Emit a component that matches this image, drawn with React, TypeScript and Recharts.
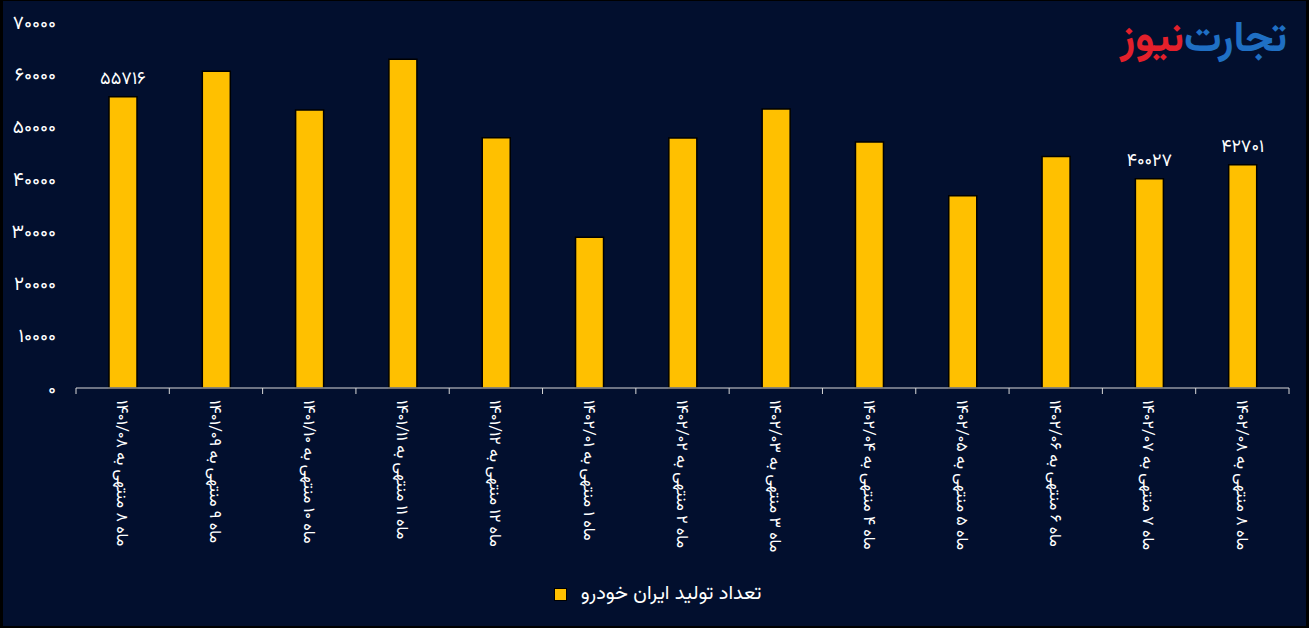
import { BarChart, Bar, XAxis, YAxis, Legend, LabelList } from 'recharts'

// تولید ماهانه ایران خودرو
const categories = [
  'ماه ۸ منتهی به ۱۴۰۱/۰۸',
  'ماه ۹ منتهی به ۱۴۰۱/۰۹',
  'ماه ۱۰ منتهی به ۱۴۰۱/۱۰',
  'ماه ۱۱ منتهی به ۱۴۰۱/۱۱',
  'ماه ۱۲ منتهی به ۱۴۰۱/۱۲',
  'ماه ۱ منتهی به ۱۴۰۲/۰۱',
  'ماه ۲ منتهی به ۱۴۰۲/۰۲',
  'ماه ۳ منتهی به ۱۴۰۲/۰۳',
  'ماه ۴ منتهی به ۱۴۰۲/۰۴',
  'ماه ۵ منتهی به ۱۴۰۲/۰۵',
  'ماه ۶ منتهی به ۱۴۰۲/۰۶',
  'ماه ۷ منتهی به ۱۴۰۲/۰۷',
  'ماه ۸ منتهی به ۱۴۰۲/۰۸',
]
const production = [
  55716, 60600, 53170, 62860, 47870, 28850, 47810, 53360, 47040, 36760, 44290,
  40027, 42701,
]
// only these bars carry a value label in the original
const shownLabels = [
  55716, null, null, null, null, null, null, null, null, null, null, 40027,
  42701,
]
const yTicks = [0, 10000, 20000, 30000, 40000, 50000, 60000, 70000]
const seriesName = 'تعداد تولید ایران خودرو'

const data = categories.map((name, i) => ({
  name,
  value: production[i],
  label: shownLabels[i],
}))

const W = 1309
const H = 628
const MARGIN = { top: 22, right: 20, left: 0, bottom: 22 }
const Y_W = 76
const BAND = (W - MARGIN.left - MARGIN.right - Y_W) / categories.length

const BG = '#020f2e'
const BAR = '#ffc000'
const FONT = "Vazirmatn, Tahoma, 'DejaVu Sans', sans-serif"

const faDigits = (v: any) =>
  String(v).replace(/\d/g, (d) => '۰۱۲۳۴۵۶۷۸۹'[Number(d)])

function CategoryTick(props: any) {
  const { x, y, payload, index } = props
  const last = index === categories.length - 1
  return (
    <g>
      <line x1={x - BAND / 2} y1={y} x2={x - BAND / 2} y2={y + 6} stroke="#d9d9d9" />
      {last && (
        <line x1={x + BAND / 2} y1={y} x2={x + BAND / 2} y2={y + 6} stroke="#d9d9d9" />
      )}
      <text
        x={0}
        y={0}
        dy="0.35em"
        transform={`translate(${x},${y + 12}) rotate(90)`}
        textAnchor="start"
        fill="#ffffff"
        fontSize={16}
        fontFamily={FONT}
      >
        {payload.value}
      </text>
    </g>
  )
}

function LegendContent() {
  return (
    <div
      style={{
        display: 'flex',
        justifyContent: 'center',
        alignItems: 'center',
        gap: 14,
        fontFamily: FONT,
        color: '#fff',
        fontSize: 20,
        height: 24,
        paddingLeft: 26,
      }}
    >
      <span
        style={{
          width: 11,
          height: 11,
          background: BAR,
          border: '1.5px solid #000',
          display: 'inline-block',
        }}
      />
      <span>{seriesName}</span>
    </div>
  )
}

export default function App() {
  return (
    <div style={{ position: 'relative', width: W, height: H, background: BG }}>
      <style>{'body{margin:0}'}</style>
      <BarChart width={W} height={H} data={data} margin={MARGIN}>
        <XAxis
          dataKey="name"
          interval={0}
          height={194}
          tickSize={0}
          tickMargin={0}
          tickLine={false}
          axisLine={{ stroke: '#d9d9d9' }}
          tick={<CategoryTick />}
        />
        <YAxis
          width={Y_W}
          domain={[0, 70000]}
          ticks={yTicks}
          axisLine={false}
          tickLine={false}
          tickMargin={14}
          tickFormatter={faDigits}
          tick={{ fill: '#ffffff', fontSize: 19, fontFamily: FONT }}
        />
        <Legend verticalAlign="bottom" content={<LegendContent />} />
        <Bar
          dataKey="value"
          name={seriesName}
          fill={BAR}
          stroke="#000"
          strokeWidth={1.5}
          barSize={28}
          isAnimationActive={false}
        >
          <LabelList
            dataKey="label"
            position="top"
            offset={13}
            formatter={faDigits}
            fill="#ffffff"
            fontSize={18}
            fontFamily={FONT}
          />
        </Bar>
      </BarChart>
      <div
        dir="rtl"
        style={{
          position: 'absolute',
          top: 18,
          right: 22,
          fontFamily: FONT,
          fontWeight: 'bold',
          fontSize: 42,
          lineHeight: 1.1,
          display: 'flex',
        }}
      >
        <span style={{ color: '#1f6fc4' }}>تجارت</span>
        <span style={{ color: '#e3202b' }}>نیوز</span>
      </div>
      <div
        style={{
          position: 'absolute',
          inset: 0,
          borderLeft: '3px solid #000',
          borderRight: '3px solid #000',
          borderBottom: '2px solid #000',
          borderTop: '1px solid #000',
          pointerEvents: 'none',
        }}
      />
    </div>
  )
}
